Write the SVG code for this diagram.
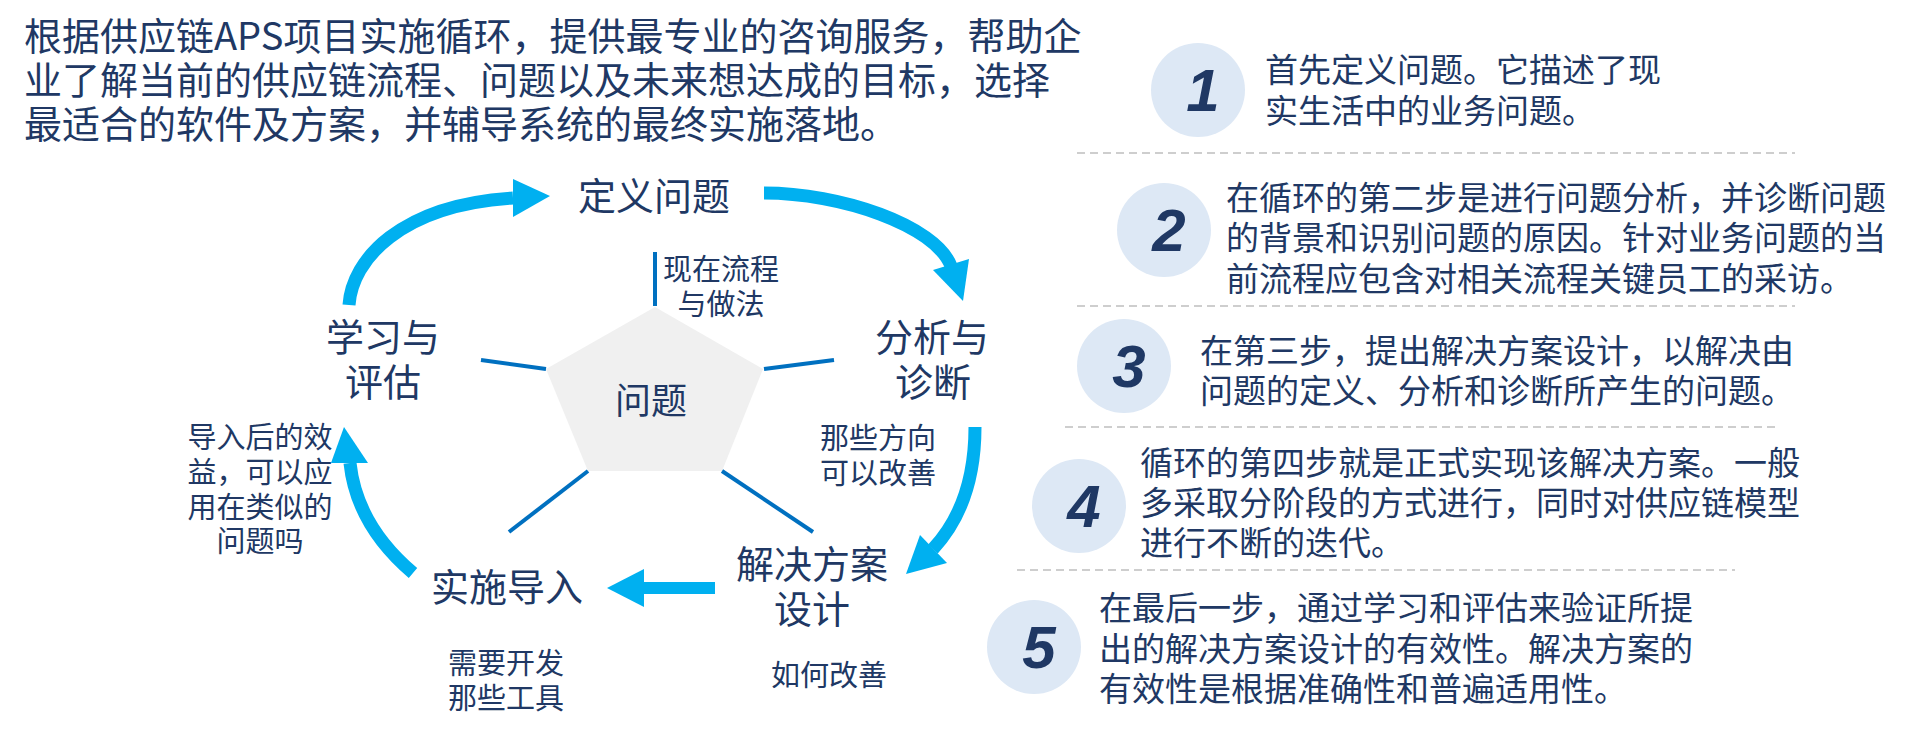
<svg xmlns="http://www.w3.org/2000/svg" width="1913" height="733" viewBox="0 0 1913 733">
<style>
.t{font-family:"Noto Sans CJK SC","Noto Sans",sans-serif;fill:#203864}
.title{font-size:38px}
.desc{font-size:33px}
.big{font-size:38px;text-anchor:middle}
.sm{font-size:29px;text-anchor:middle}
.num{font-family:"Liberation Sans",Arial,sans-serif;font-weight:bold;font-style:italic;font-size:60px;fill:#1f3864;text-anchor:middle}
.circ{fill:#dde8f5}
.dash{stroke:#bfbfbf;stroke-width:1.5;stroke-dasharray:8 5;fill:none}
.arc{stroke:#00b0f0;stroke-width:13;fill:none}
.head{fill:#00b0f0}
.spoke{stroke:#0070c0;stroke-width:4;fill:none}
</style>
<rect width="1913" height="733" fill="#ffffff"/>
<g id="title">
<text class="t title" x="24" y="50">根据供应链APS项目实施循环，提供最专业的咨询服务，帮助企</text>
<text class="t title" x="24" y="94">业了解当前的供应链流程、问题以及未来想达成的目标，选择</text>
<text class="t title" x="24" y="138">最适合的软件及方案，并辅导系统的最终实施落地。</text>
</g>
<g id="center-problem">
<polygon points="655,307 763,369 722,471 588,471 546,369" fill="#f0f0f0"/>
<text class="t big" x="651" y="414" style="font-size:36px">问题</text>
</g>
<g id="spokes">
<line class="spoke" x1="655" y1="252" x2="655" y2="306"/>
<line class="spoke" x1="481" y1="360" x2="546" y2="369"/>
<line class="spoke" x1="764" y1="369" x2="834" y2="360"/>
<line class="spoke" x1="588" y1="471" x2="509" y2="532"/>
<line class="spoke" x1="722" y1="471" x2="813" y2="532"/>
</g>
<g id="connectors">
<path class="arc" d="M349 305 C352 260,400 205,513 198"/>
<polygon class="head" points="513,179 550,196 513,217"/>
<path class="arc" d="M764 193 C840 193,935 225,951 266"/>
<polygon class="head" points="933,270 969,259 963,301"/>
<path class="arc" d="M975 427 C975 480,960 520,933 549"/>
<polygon class="head" points="920,535 947,563 906,574"/>
<line x1="715" y1="588" x2="642" y2="588" stroke="#00b0f0" stroke-width="12"/>
<polygon class="head" points="644,569 607,588 644,607"/>
<path class="arc" d="M413 573 C380 545,355 510,350 463"/>
<polygon class="head" points="331,463 344,427 368,463"/>
</g>
<g id="node-define">
<text class="t big" x="654" y="210">定义问题</text>
<text class="t sm" x="721" y="280">现在流程</text>
<text class="t sm" x="721" y="315">与做法</text>
</g>
<g id="node-analyze">
<text class="t big" x="932" y="351">分析与</text>
<text class="t big" x="933" y="396">诊断</text>
<text class="t sm" x="878" y="449">那些方向</text>
<text class="t sm" x="878" y="484">可以改善</text>
</g>
<g id="node-solution">
<text class="t big" x="812" y="578">解决方案</text>
<text class="t big" x="812" y="623">设计</text>
<text class="t sm" x="829" y="686">如何改善</text>
</g>
<g id="node-implement">
<text class="t big" x="507" y="601">实施导入</text>
<text class="t sm" x="506" y="674">需要开发</text>
<text class="t sm" x="506" y="709">那些工具</text>
</g>
<g id="node-learn">
<text class="t big" x="383" y="351">学习与</text>
<text class="t big" x="383" y="396">评估</text>
<text class="t sm" x="260" y="448">导入后的效</text>
<text class="t sm" x="260" y="483">益，可以应</text>
<text class="t sm" x="260" y="518">用在类似的</text>
<text class="t sm" x="260" y="552">问题吗</text>
</g>
<g id="separators">
<line class="dash" x1="1077" y1="153" x2="1795" y2="153"/>
<line class="dash" x1="1077" y1="306" x2="1795" y2="306"/>
<line class="dash" x1="1065" y1="427" x2="1780" y2="427"/>
<line class="dash" x1="1017" y1="570" x2="1735" y2="570"/>
</g>
<g id="step1">
<circle class="circ" cx="1198" cy="90" r="47"/>
<text class="num" x="1203" y="111">1</text>
<text class="t desc" x="1265" y="82">首先定义问题。它描述了现</text>
<text class="t desc" x="1265" y="123">实生活中的业务问题。</text>
</g>
<g id="step2">
<circle class="circ" cx="1164" cy="230" r="47"/>
<text class="num" x="1169" y="251">2</text>
<text class="t desc" x="1226" y="210">在循环的第二步是进行问题分析，并诊断问题</text>
<text class="t desc" x="1226" y="250">的背景和识别问题的原因。针对业务问题的当</text>
<text class="t desc" x="1226" y="291">前流程应包含对相关流程关键员工的采访。</text>
</g>
<g id="step3">
<circle class="circ" cx="1124" cy="366" r="47"/>
<text class="num" x="1129" y="387">3</text>
<text class="t desc" x="1200" y="363">在第三步，提出解决方案设计，以解决由</text>
<text class="t desc" x="1200" y="403">问题的定义、分析和诊断所产生的问题。</text>
</g>
<g id="step4">
<circle class="circ" cx="1079" cy="506" r="47"/>
<text class="num" x="1084" y="527">4</text>
<text class="t desc" x="1140" y="475">循环的第四步就是正式实现该解决方案。一般</text>
<text class="t desc" x="1140" y="515">多采取分阶段的方式进行，同时对供应链模型</text>
<text class="t desc" x="1140" y="555">进行不断的迭代。</text>
</g>
<g id="step5">
<circle class="circ" cx="1034" cy="647" r="47"/>
<text class="num" x="1039" y="668">5</text>
<text class="t desc" x="1099" y="620">在最后一步，通过学习和评估来验证所提</text>
<text class="t desc" x="1099" y="661">出的解决方案设计的有效性。解决方案的</text>
<text class="t desc" x="1099" y="701">有效性是根据准确性和普遍适用性。</text>
</g>
</svg>
